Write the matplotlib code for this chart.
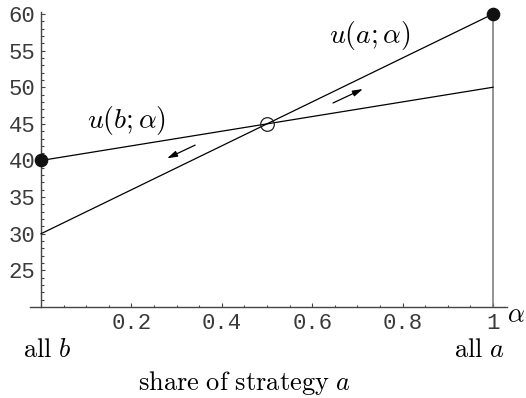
import matplotlib
matplotlib.use("Agg")
import matplotlib.pyplot as plt
import numpy as np

# payoff lines over the share alpha of strategy a
alpha = [0, 1]
u_a = [30, 60]
u_b = [40, 50]

# equilibria: pure ones filled, mixed one open
pure_x = [0, 1]
pure_y = [40, 60]
mixed_x = [0.5]
mixed_y = [45]

# direction arrows (tail, head)
arrow_left = [(0.341, 42.1), (0.279, 40.3)]
arrow_right = [(0.646, 47.85), (0.712, 49.76)]

x_ticks = [0.2, 0.4, 0.6, 0.8, 1.0]
x_labels = ["0.2", "0.4", "0.6", "0.8", "1"]
y_ticks = [25, 30, 35, 40, 45, 50, 55, 60]

plt.rcParams['mathtext.fontset'] = 'cm'
axis_col = '#444444'

fig = plt.figure(figsize=(5.26, 3.98), dpi=100)
ax = fig.add_axes([0, 0, 1, 1])
ax.set_facecolor('none')
ax.set_xlim(-0.0907, 1.0730)
ax.set_ylim(7.577, 61.91)

for s in ['top', 'right']:
    ax.spines[s].set_visible(False)
ax.spines['left'].set_position(('data', 0))
ax.spines['bottom'].set_position(('data', 20))
ax.spines['left'].set_bounds(20, 60.3)
ax.spines['bottom'].set_bounds(-0.024, 1.031)
for s in ['left', 'bottom']:
    ax.spines[s].set_color(axis_col)
    ax.spines[s].set_linewidth(1.0)

ax.set_xticks(x_ticks)
ax.set_xticklabels(x_labels)
ax.set_xticks(np.arange(0.05, 1.0, 0.05), minor=True)
ax.set_yticks(y_ticks)
ax.set_yticks(np.arange(21, 60, 1), minor=True)

ax.tick_params(which='both', direction='in', color=axis_col, width=0.8)
ax.tick_params(which='major', length=3.2)
ax.tick_params(which='minor', length=1.8)
ax.tick_params(axis='y', which='major', pad=4)
ax.tick_params(axis='x', which='major', pad=4)
for lab in ax.get_xticklabels() + ax.get_yticklabels():
    lab.set_family('Liberation Mono')
    lab.set_fontsize(16)
    lab.set_color('#3a3a3a')

# edge of the simplex at alpha = 1
ax.plot([1, 1], [20, 60], color='#777777', lw=1.1, zorder=2)

ax.plot(alpha, u_a, color='black', lw=0.9, zorder=3)
ax.plot(alpha, u_b, color='black', lw=0.9, zorder=3)

ax.plot(pure_x, pure_y, 'o', color='#111111', ms=8.8, clip_on=False, zorder=5)
ax.plot(mixed_x, mixed_y, 'o', mfc='none', mec='#222222', mew=0.9, ms=9.8, zorder=5)

for tail, head in [arrow_left, arrow_right]:
    ax.annotate('', xy=head, xytext=tail,
                arrowprops=dict(arrowstyle='-|>,head_length=0.6,head_width=0.18',
                                color='black', lw=0.9, shrinkA=0, shrinkB=0))

ax.text(0.19, 45.4, r'$u(b;\alpha)$', fontsize=20, ha='center', va='center')
ax.text(0.728, 57.1, r'$u(a;\alpha)$', fontsize=20, ha='center', va='center')
ax.text(1.032, 18.0, r'$\alpha$', fontsize=19, ha='left', va='baseline')

ax.text(-0.04, 13.2, r'$\mathrm{all}\ b$', fontsize=19, ha='left', va='baseline')
ax.text(1.027, 13.2, r'$\mathrm{all}\ a$', fontsize=19, ha='right', va='baseline')
ax.text(0.451, 8.7, r'$\mathrm{share\ of\ strategy}\ a$', fontsize=19,
        ha='center', va='baseline')

fig.savefig('out.png', dpi=100)
